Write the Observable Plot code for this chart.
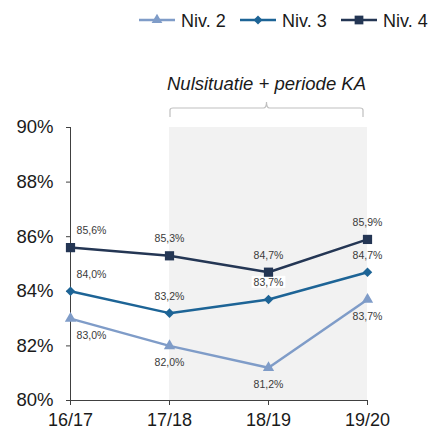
<!DOCTYPE html>
<html><head><meta charset="utf-8">
<script src="https://cdn.jsdelivr.net/npm/d3@7"></script>
<script src="https://cdn.jsdelivr.net/npm/@observablehq/plot@0.6"></script>
<style>body{margin:0;background:#fff;font-family:"Liberation Sans",Arial,sans-serif}</style>
</head><body><div id="chart"></div>
<script>
const categories = ["16/17","17/18","18/19","19/20"];
const seriesNames = ["Niv. 2","Niv. 3","Niv. 4"];
const niv2 = [83.0, 82.0, 81.2, 83.7];
const niv3 = [84.0, 83.2, 83.7, 84.7];
const niv4 = [85.6, 85.3, 84.7, 85.9];
const yTicks = [80,82,84,86,88,90];
const shadedPeriod = ["17/18","18/19","19/20"];
const bracketLabel = "Nulsituatie + periode KA";

const colors = ["#7f9cc8","#1d6496","#243654"];
const symbols = ["triangle","diamond2","square"];
const radii = [4.2, 4.3, 5.2];
const labelDy = [17, -17, -17];

const values = [niv2, niv3, niv4];
const data = [];
seriesNames.forEach((s,i)=>categories.forEach((c,j)=>data.push({series:s, si:i, cat:c, ci:j, v:values[i][j]})));
const fmt = v => v.toFixed(1).replace(".", ",") + "%";

const marks = [
  Plot.areaY(shadedPeriod, {x: d=>d, y1: 80, y2: 90, fill: "#f2f2f2"}),
  Plot.ruleY([80], {stroke:"#404040", strokeWidth:1}),
  Plot.ruleX([categories[0]], {y1:80, y2:90, stroke:"#404040", strokeWidth:1}),
  Plot.axisY({ticks: yTicks, tickFormat: d=>d+"%", tickSize:4, tickPadding:13, fontSize:18.5, stroke:"#404040", fill:"#1a1a1a"}),
  Plot.axisX({tickSize:5, tickPadding:8, fontSize:18, stroke:"#404040", fill:"#1a1a1a"}),
  Plot.line(data, {x:"cat", y:"v", z:"series", stroke:d=>colors[d.si], strokeWidth:2.5})
];
seriesNames.forEach((s,i)=>{
  const sd = data.filter(d=>d.si===i);
  marks.push(Plot.dot(sd, {x:"cat", y:"v", symbol:()=>symbols[i], r:radii[i], fill:colors[i], stroke:"none"}));
  marks.push(Plot.text(sd.filter(d=>d.ci===0), {x:"cat", y:"v", text:d=>fmt(d.v), dy:labelDy[i], dx:21, fontSize:10.5, fill:"#3a3a3a", className:"lbl"}));
  marks.push(Plot.text(sd.filter(d=>d.ci>0), {x:"cat", y:"v", text:d=>fmt(d.v), dy:labelDy[i], fontSize:10.5, fill:"#3a3a3a", className: i===1 ? "lbl3" : "lbl"}));
});

const chart = Plot.plot({
  width: 433, height: 435,
  marginTop: 127, marginBottom: 35, marginLeft: 70, marginRight: 66,
  style: {fontFamily: '"Liberation Sans", Arial, sans-serif', background:"#fff"},
  x: {type:"point", domain: categories, padding:0, label:null},
  y: {domain:[80,90], label:null},
  symbol: {domain: symbols, range: symbols},
  marks
});
document.getElementById("chart").appendChild(chart);

const svg = d3.select(chart);
// white background behind the Niv.3 18/19 label
svg.selectAll(".lbl3 text").each(function(){
  const t = this;
  if (t.textContent === fmt(niv3[2])) {
    const b = t.getBBox();
    const tr = t.getAttribute("transform");
    d3.select(t.parentNode).insert("rect", () => t)
      .attr("x", b.x-2).attr("y", b.y).attr("width", b.width+4).attr("height", b.height)
      .attr("transform", tr).attr("fill", "#fff");
  }
});

const xs = chart.scale("x"), ys = chart.scale("y");
// bracket
const bx1 = xs.apply(shadedPeriod[0]) + 1, bx2 = xs.apply(shadedPeriod[shadedPeriod.length-1]) - 4;
const bm = (bx1 + bx2) / 2;
const top90 = ys.apply(90);
const by = top90 - 19;
svg.append("path")
  .attr("d", `M${bx1},${by+9}L${bx1},${by+2}Q${bx1},${by} ${bx1+3},${by}L${bm-3},${by}Q${bm},${by} ${bm},${by-6}Q${bm},${by} ${bm+3},${by}L${bx2-3},${by}Q${bx2},${by} ${bx2},${by+2}L${bx2},${by+9}`)
  .attr("fill","none").attr("stroke","#bfbfbf").attr("stroke-width",1.2);
svg.append("text").attr("x", bm).attr("y", 90).attr("text-anchor","middle")
  .attr("font-style","italic").attr("font-size",18.5).attr("fill","#1a1a1a").text(bracketLabel);

// legend
const legX = [139, 240, 341];
seriesNames.forEach((s,i)=>{
  const g = svg.append("g").attr("transform", `translate(${legX[i]},20)`);
  g.append("line").attr("x1",0).attr("x2",36).attr("y1",0).attr("y2",0).attr("stroke",colors[i]).attr("stroke-width",2.5);
  const sym = {triangle:d3.symbolTriangle, diamond2:d3.symbolDiamond2, square:d3.symbolSquare}[symbols[i]];
  g.append("path").attr("d", d3.symbol(sym, Math.PI*radii[i]*radii[i]*0.9)()).attr("transform","translate(18,0)").attr("fill",colors[i]);
  g.append("text").attr("x",42).attr("y",6.5).attr("text-anchor","start").attr("font-size",18).attr("fill","#1a1a1a").text(s);
});
</script></body></html>
